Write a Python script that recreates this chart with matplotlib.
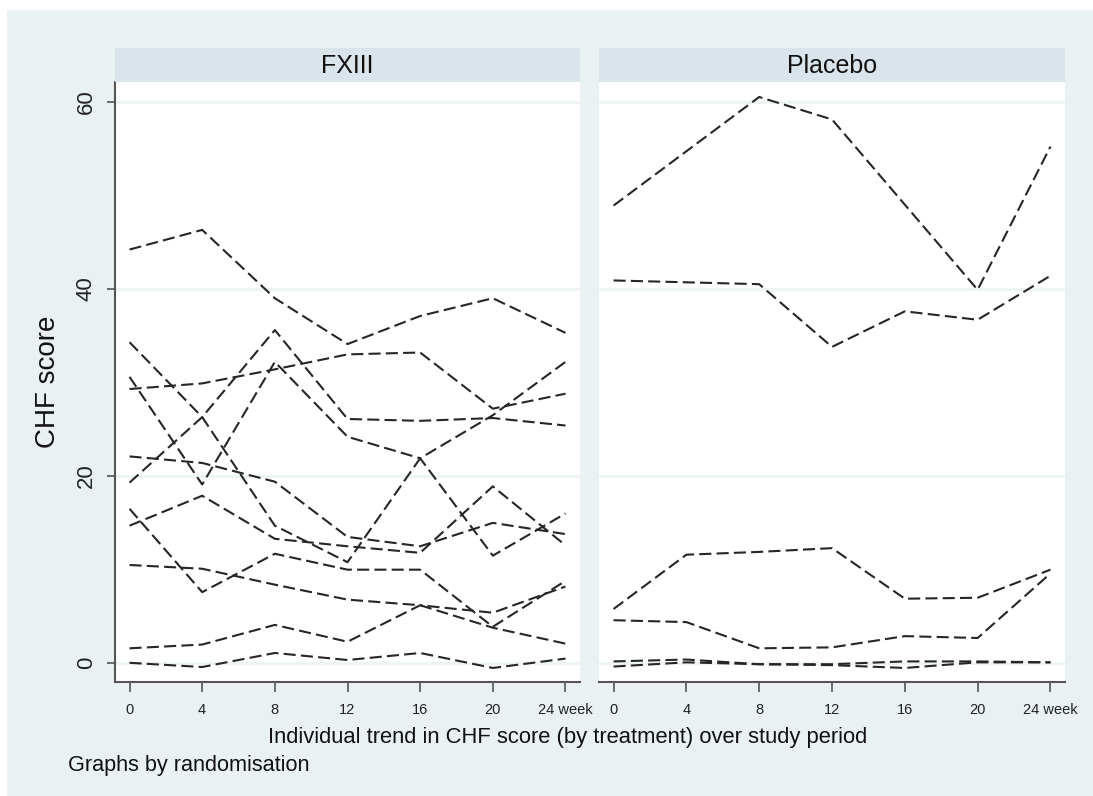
import matplotlib
matplotlib.use("Agg")
import matplotlib.pyplot as plt
from matplotlib.patches import Rectangle

plt.rcParams['font.family'] = ['Liberation Sans', 'DejaVu Sans']

weeks = [0, 4, 8, 12, 16, 20, 24]
week_labels = ["0", "4", "8", "12", "16", "20", "24 week"]

# CHF score per patient, FXIII arm
fxiii_scores = [
    [44.2, 46.3, 39.0, 34.1, 37.1, 39.0, 35.3],
    [29.3, 29.9, 31.4, 33.0, 33.2, 27.2, 28.8],
    [34.3, 26.3, 14.7, 10.8, 21.9, 26.5, 32.2],
    [19.3, 26.3, 35.6, 26.1, 25.9, 26.2, 25.4],
    [30.6, 19.1, 32.2, 24.2, 21.9, 11.5, 16.0],
    [22.1, 21.4, 19.4, 13.5, 12.5, 15.0, 13.8],
    [14.7, 17.9, 13.3, 12.5, 11.8, 18.9, 12.6],
    [16.5, 7.6, 11.7, 10.0, 10.0, 3.9, 8.8],
    [10.5, 10.1, 8.4, 6.8, 6.2, 3.8, 2.1],
    [1.6, 2.0, 4.1, 2.3, 6.2, 5.4, 8.2],
    [0.05, -0.4, 1.1, 0.35, 1.1, -0.5, 0.5],
]

# CHF score per patient, placebo arm
placebo_scores = [
    [48.9, 54.7, 60.5, 58.1, 49.0, 39.9, 55.2],
    [40.9, 40.7, 40.5, 33.8, 37.6, 36.7, 41.4],
    [5.8, 11.6, 11.9, 12.3, 6.9, 7.0, 10.0],
    [4.6, 4.4, 1.6, 1.7, 2.9, 2.7, 9.6],
    [0.2, 0.4, -0.1, -0.1, 0.2, 0.2, 0.1],
    [-0.35, 0.1, -0.1, -0.2, -0.5, 0.1, 0.1],
]

panels = ["FXIII", "Placebo"]
y_ticks = [0, 20, 40, 60]

W, H = 1093, 796
fig = plt.figure(figsize=(W / 100, H / 100), dpi=100, facecolor="white")

BG = "#E9F1F3"
STRIP = "#D9E5EA"
GRID = "#EDF4F6"
AXIS = "#555555"
LINE = "#262626"

# graph region background, kept behind the panels
fig.patches.append(Rectangle((7 / W, 0), 1 - 7 / W, 1 - 10 / H,
                             transform=fig.transFigure, facecolor=BG,
                             edgecolor="none", zorder=-10))


def fx(px):
    return px / W


def fy(py):
    return 1 - py / H


plot_top, plot_bot = 82, 682
strip_top = 48
boxes = [(115, 580), (599, 1065)]

for i, (name, data) in enumerate(zip(panels, [fxiii_scores, placebo_scores])):
    x0, x1 = boxes[i]
    ax = fig.add_axes([fx(x0), fy(plot_bot), fx(x1) - fx(x0), fy(plot_top) - fy(plot_bot)])
    ax.set_zorder(2)
    ax.set_facecolor("white")
    for series in data:
        ax.plot(weeks, series, color=LINE, lw=1.5, linestyle=(0, (5.8, 2.5)),
                dash_capstyle="butt", zorder=3)
    ax.set_xlim(-0.8, 24.8)
    ax.set_ylim(-2.0, 62.1)
    ax.set_yticks(y_ticks)
    ax.set_xticks(weeks)
    ax.set_xticklabels(week_labels)
    ax.grid(axis="y", color=GRID, lw=2.2, zorder=1)
    ax.grid(axis="x", visible=False)
    ax.set_axisbelow(True)
    for s in ["top", "right"]:
        ax.spines[s].set_visible(False)
    ax.spines["bottom"].set_color(AXIS)
    ax.spines["bottom"].set_linewidth(1.5)
    ax.tick_params(axis="x", length=7, width=1.2, color=AXIS, pad=8,
                   labelsize=10.5, labelcolor="#222222")
    if i == 0:
        ax.spines["left"].set_color(AXIS)
        ax.spines["left"].set_linewidth(1.5)
        ax.tick_params(axis="y", length=6, width=1.2, color=AXIS, pad=7,
                       labelsize=16, labelcolor="#222222", labelrotation=90)
        for lab in ax.get_yticklabels():
            lab.set_va("center")
    else:
        ax.spines["left"].set_visible(False)
        ax.tick_params(axis="y", left=False, labelleft=False)

    # panel title strip
    sax = fig.add_axes([fx(x0), fy(plot_top), fx(x1) - fx(x0), fy(strip_top) - fy(plot_top)])
    sax.set_zorder(2)
    sax.set_facecolor(STRIP)
    sax.set_xticks([])
    sax.set_yticks([])
    for s in sax.spines.values():
        s.set_visible(False)
    sax.text(0.5, 0.47, name, ha="center", va="center", fontsize=18,
             color="#111111", transform=sax.transAxes)

fig.text(fx(48), fy(382), "CHF score", rotation=90, ha="center", va="center",
         fontsize=20, color="#111111")
fig.text(fx(568), fy(737), "Individual trend in CHF score (by treatment) over study period",
         ha="center", va="center", fontsize=15.8, color="#111111")
fig.text(fx(68), fy(765), "Graphs by randomisation", ha="left", va="center",
         fontsize=15.6, color="#111111")

fig.savefig("out.png", dpi=100, facecolor=fig.get_facecolor())
